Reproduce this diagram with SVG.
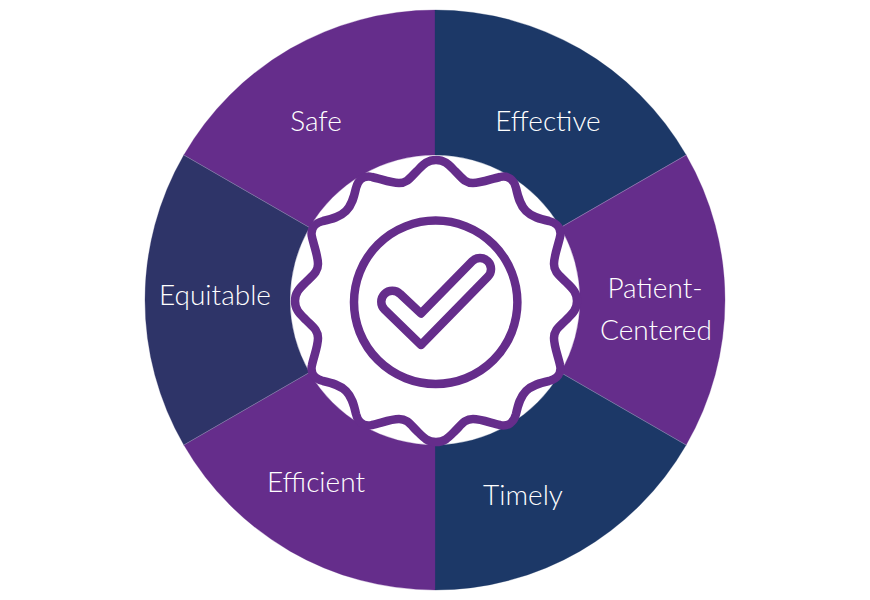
<svg xmlns="http://www.w3.org/2000/svg" width="870" height="600" viewBox="0 0 870 600">
<style>
.p{fill:#652d8b;stroke:#652d8b;stroke-width:.3}.n{fill:#1c3867;stroke:#1c3867;stroke-width:.3}.e{fill:#2e3468;stroke:#2e3468;stroke-width:.3}
.seam{fill:none;stroke:#9a8cb8;stroke-width:.6}
.t{font-family:"Lato","Open Sans",sans-serif;font-weight:300;font-size:28px;fill:#fff;text-anchor:middle}
.b{fill:none;stroke:#652d8b;stroke-width:8.5;stroke-linejoin:round}
</style>
<rect width="870" height="600" fill="#fff"/>
<g id="node-safe"><path class="p" d="M435 10A290 290 0 0 0 183.850 155L309.425 227.500A145 145 0 0 1 435 155Z"/><text class="t" x="316" y="131">Safe</text></g>
<g id="node-effective"><path class="n" d="M435 10A290 290 0 0 1 686.150 155L560.575 227.500A145 145 0 0 0 435 155Z"/><text class="t" x="548" y="131">Effective</text></g>
<g id="node-patient"><path class="p" d="M686.150 155A290 290 0 0 1 686.150 445L560.575 372.500A145 145 0 0 0 560.575 227.500Z"/><text class="t" x="655" y="298">Patient-</text><text class="t" x="656" y="340">Centered</text></g>
<g id="node-timely"><path class="n" d="M686.150 445A290 290 0 0 1 435 590L435 445A145 145 0 0 0 560.575 372.500Z"/><text class="t" x="523" y="505">Timely</text></g>
<g id="node-efficient"><path class="p" d="M435 590A290 290 0 0 1 183.850 445L309.425 372.500A145 145 0 0 0 435 445Z"/><text class="t" x="316" y="492">Efficient</text></g>
<g id="node-equitable"><path class="e" d="M183.850 445A290 290 0 0 1 183.850 155L309.425 227.500A145 145 0 0 0 309.425 372.500Z"/><text class="t" x="215" y="305">Equitable</text></g>
<g id="connectors"><path class="seam" d="M686.150 155L560.575 227.500M686.150 445L560.575 372.500M183.850 445L309.425 372.500M183.850 155L309.425 227.500"/></g>
<g id="node-badge">
<path class="b" transform="translate(436 301)" d="M0,-141C9,-141 13,-136 19,-130C26,-123 29,-118 37,-118C45,-118 55,-122 64,-124C72,-126 78,-121 80,-113C82,-104 84,-96 90,-90C96,-84 104,-82 113,-80C121,-78 126,-72 124,-64C122,-55 118,-45 118,-37C118,-29 123,-26 130,-19C136,-13 141,-9 141,0C141,9 136,13 130,19C123,26 118,29 118,37C118,45 122,55 124,64C126,72 121,78 113,80C104,82 96,84 90,90C84,96 82,104 80,113C78,121 72,126 64,124C55,122 45,118 37,118C29,118 26,123 19,130C13,136 9,141 0,141C-9,141 -13,136 -19,130C-26,123 -29,118 -37,118C-45,118 -55,122 -64,124C-72,126 -78,121 -80,113C-82,104 -84,96 -90,90C-96,84 -104,82 -113,80C-121,78 -126,72 -124,64C-122,55 -118,45 -118,37C-118,29 -123,26 -130,19C-136,13 -141,9 -141,0C-141,-9 -136,-13 -130,-19C-123,-26 -118,-29 -118,-37C-118,-45 -122,-55 -124,-64C-126,-72 -121,-78 -113,-80C-104,-82 -96,-84 -90,-90C-84,-96 -82,-104 -80,-113C-78,-121 -72,-126 -64,-124C-55,-122 -45,-118 -37,-118C-29,-118 -26,-123 -19,-130C-13,-136 -9,-141 0,-141Z"/>
<circle class="b" cx="435.700" cy="302.300" r="81.700"/>
<path class="b" d="M421 345L487.800 276.800A11 11 0 0 0 472.200 261.200L421 313.500L400.100 293.900A11 11 0 0 0 384.500 309.500Z"/>
</g>
</svg>
